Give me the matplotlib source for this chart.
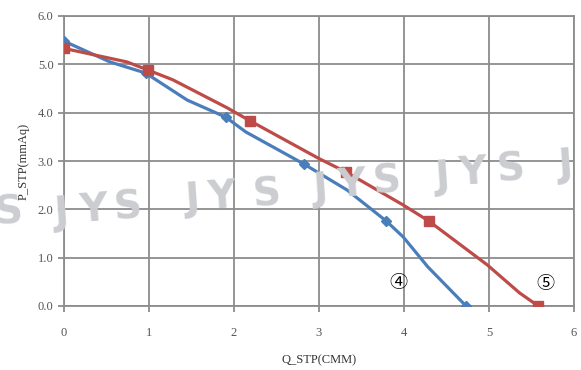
import matplotlib
matplotlib.use('Agg')
import matplotlib.pyplot as plt

# curve 4 (blue) - line points and marker points
q4_line = [0, 0.54, 0.96, 1.45, 1.9, 2.14, 2.82, 3.33, 3.79, 3.99, 4.28, 4.73]
p4_line = [5.48, 5.05, 4.82, 4.26, 3.91, 3.6, 2.94, 2.4, 1.76, 1.43, 0.81, 0.0]
q4_mark = [0, 0.96, 1.9, 2.82, 3.79, 4.73]
p4_mark = [5.48, 4.82, 3.91, 2.94, 1.76, 0.0]

# curve 5 (red)
q5_line = [0, 0.74, 0.99, 1.28, 1.92, 2.19, 3.0, 3.32, 3.99, 4.29, 4.98, 5.36, 5.58]
p5_line = [5.33, 5.05, 4.88, 4.68, 4.1, 3.83, 3.05, 2.77, 2.09, 1.76, 0.85, 0.27, 0.0]
q5_mark = [0, 0.99, 2.19, 3.32, 4.29, 5.58]
p5_mark = [5.33, 4.88, 3.83, 2.77, 1.76, 0.0]

xticks = [0, 1, 2, 3, 4, 5, 6]
yticks = [0.0, 1.0, 2.0, 3.0, 4.0, 5.0, 6.0]

# watermark letters (pixel centres)
wm_letters = ['S', 'J', 'Y', 'S', 'J', 'Y', 'S', 'J', 'Y', 'S', 'J', 'Y', 'S', 'J']
wm_x = [8, 61, 94, 127, 192, 222, 266, 320, 352, 386, 442, 473, 510, 565]
wm_y = [213, 214, 210, 208, 200, 197, 195, 190, 185, 182, 178, 173, 170, 166]

blue = '#4a7ebb'
red = '#be4b48'
grid = '#8c8c8c'

fig = plt.figure(figsize=(5.81, 3.70), dpi=100)
ax = fig.add_axes([64/581, 64/370, 510/581, 290/370])

for s, px, py in zip(wm_letters, wm_x, wm_y):
    fig.text(px/581, 1 - py/370, s, fontsize=28, fontweight='bold', color='#cbcdd0',
             family='DejaVu Sans', rotation=4, ha='center', va='center', zorder=0)

ax.patch.set_alpha(0)
ax.plot(q4_line, p4_line, color=blue, lw=2.3, zorder=3)
ax.plot(q4_mark, p4_mark, 'D', color=blue, ms=5, zorder=4)
ax.plot(q5_line, p5_line, color=red, lw=2.3, zorder=3)
ax.plot(q5_mark, p5_mark, 's', color=red, ms=7, zorder=4)

ax.text(3.93, 0.48, '④', fontsize=13, family=['Noto Sans CJK JP', 'DejaVu Sans'],
        ha='center', va='center')
ax.text(5.66, 0.46, '⑤', fontsize=13, family=['Noto Sans CJK JP', 'DejaVu Sans'],
        ha='center', va='center')

ax.set_xlim(0, 6)
ax.set_ylim(0, 6)
ax.set_xticks(xticks)
ax.set_yticks(yticks)
ax.set_xticklabels([str(v) for v in xticks])
ax.set_yticklabels(['%.1f' % v for v in yticks])
ax.grid(True, color=grid, lw=1.3)
ax.set_axisbelow(True)
for sp in ax.spines.values():
    sp.set_color(grid)
    sp.set_linewidth(1.3)
ax.tick_params(axis='both', colors=grid, labelcolor='#555555', labelsize=9, width=1.3, length=4)
ax.tick_params(axis='x', pad=11)
for lab in ax.get_xticklabels() + ax.get_yticklabels():
    lab.set_family('Liberation Serif')

ax.set_xlabel('Q_STP(CMM)', family='Liberation Serif', fontsize=9, color='#333333', labelpad=11)
ax.set_ylabel('P_STP(mmAq)', family='Liberation Serif', fontsize=9, color='#333333', labelpad=6)

fig.savefig('out.png', dpi=100)
